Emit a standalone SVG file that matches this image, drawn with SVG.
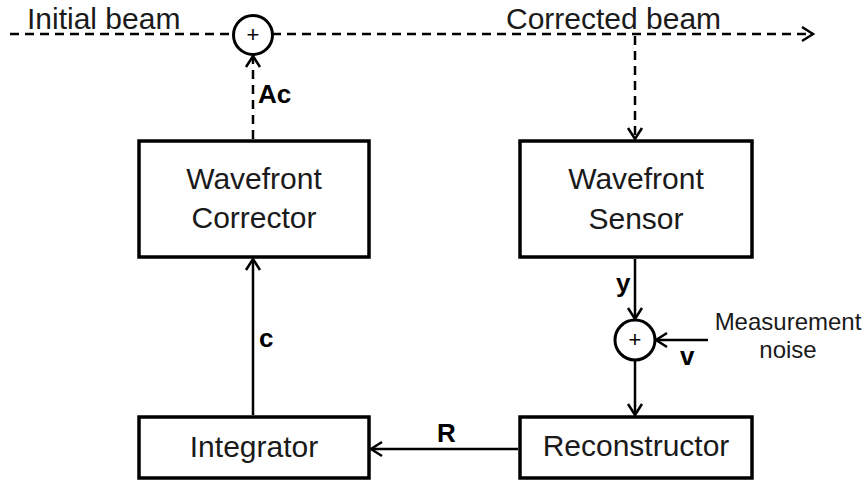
<svg xmlns="http://www.w3.org/2000/svg" width="866" height="481" viewBox="0 0 866 481">
<style>
.box{fill:#fff;stroke:#000;stroke-width:3.5}
.sum{fill:#fff;stroke:#000;stroke-width:3}
.t{font-family:"Liberation Sans",Arial,sans-serif;font-size:30px;fill:#1a1a1a;text-anchor:middle}
.lbl{font-family:"Liberation Sans",Arial,sans-serif;font-size:26px;font-weight:bold;fill:#000}
.small{font-family:"Liberation Sans",Arial,sans-serif;font-size:24px;fill:#1a1a1a;text-anchor:middle}
.plus{font-family:"Liberation Sans",Arial,sans-serif;font-size:22px;fill:#000;text-anchor:middle}
.ln{fill:none;stroke:#000;stroke-width:2.5}
.dash{stroke-dasharray:9 6}
</style>
<defs>
<marker id="arr" markerUnits="userSpaceOnUse" markerWidth="20" markerHeight="20" viewBox="-14 -10 16 20" refX="0" refY="0" orient="auto" overflow="visible">
<path d="M-11,-7 L0,0 L-11,7" fill="none" stroke="#000" stroke-width="2.5"/>
</marker>
</defs>
<rect width="866" height="481" fill="#fff"/>
<g id="connectors">
<line class="ln dash" x1="10" y1="34" x2="233" y2="34"/>
<line class="ln dash" x1="272" y1="34" x2="813" y2="34" marker-end="url(#arr)"/>
<line class="ln dash" x1="635" y1="36" x2="635" y2="139" marker-end="url(#arr)"/>
<line class="ln dash" x1="253" y1="139" x2="253" y2="56" marker-end="url(#arr)"/>
<line class="ln" x1="635" y1="259" x2="635" y2="319" marker-end="url(#arr)"/>
<line class="ln" x1="708" y1="340" x2="656" y2="340" marker-end="url(#arr)"/>
<line class="ln" x1="635" y1="361" x2="635" y2="415" marker-end="url(#arr)"/>
<line class="ln" x1="518" y1="449" x2="371" y2="449" marker-end="url(#arr)"/>
<line class="ln" x1="253" y1="415" x2="253" y2="259" marker-end="url(#arr)"/>
<text class="lbl" x="258" y="103">Ac</text>
<text class="lbl" x="616" y="292">y</text>
<text class="lbl" x="680" y="365">v</text>
<text class="lbl" x="437" y="442">R</text>
<text class="lbl" x="259" y="347">c</text>
</g>
<g id="beam-labels">
<text class="t" x="27" y="29" style="text-anchor:start">Initial beam</text>
<text class="t" x="506" y="29" style="text-anchor:start">Corrected beam</text>
</g>
<g id="sum-top">
<circle class="sum" cx="253" cy="35" r="19.5"/>
<text class="plus" x="253" y="42">+</text>
</g>
<g id="sum-noise">
<circle class="sum" cx="635" cy="340" r="20"/>
<text class="plus" x="635" y="347">+</text>
</g>
<g id="noise-label">
<text class="small" x="788" y="330">Measurement</text>
<text class="small" x="788" y="358">noise</text>
</g>
<g id="wavefront-corrector">
<rect class="box" x="139" y="141" width="230" height="116"/>
<text class="t" x="254" y="189">Wavefront</text>
<text class="t" x="254" y="228">Corrector</text>
</g>
<g id="wavefront-sensor">
<rect class="box" x="520" y="141" width="232" height="116"/>
<text class="t" x="636" y="189">Wavefront</text>
<text class="t" x="636" y="229">Sensor</text>
</g>
<g id="integrator">
<rect class="box" x="139" y="417" width="230" height="61"/>
<text class="t" x="254" y="457">Integrator</text>
</g>
<g id="reconstructor">
<rect class="box" x="520" y="417" width="232" height="61"/>
<text class="t" x="636" y="456">Reconstructor</text>
</g>
</svg>
